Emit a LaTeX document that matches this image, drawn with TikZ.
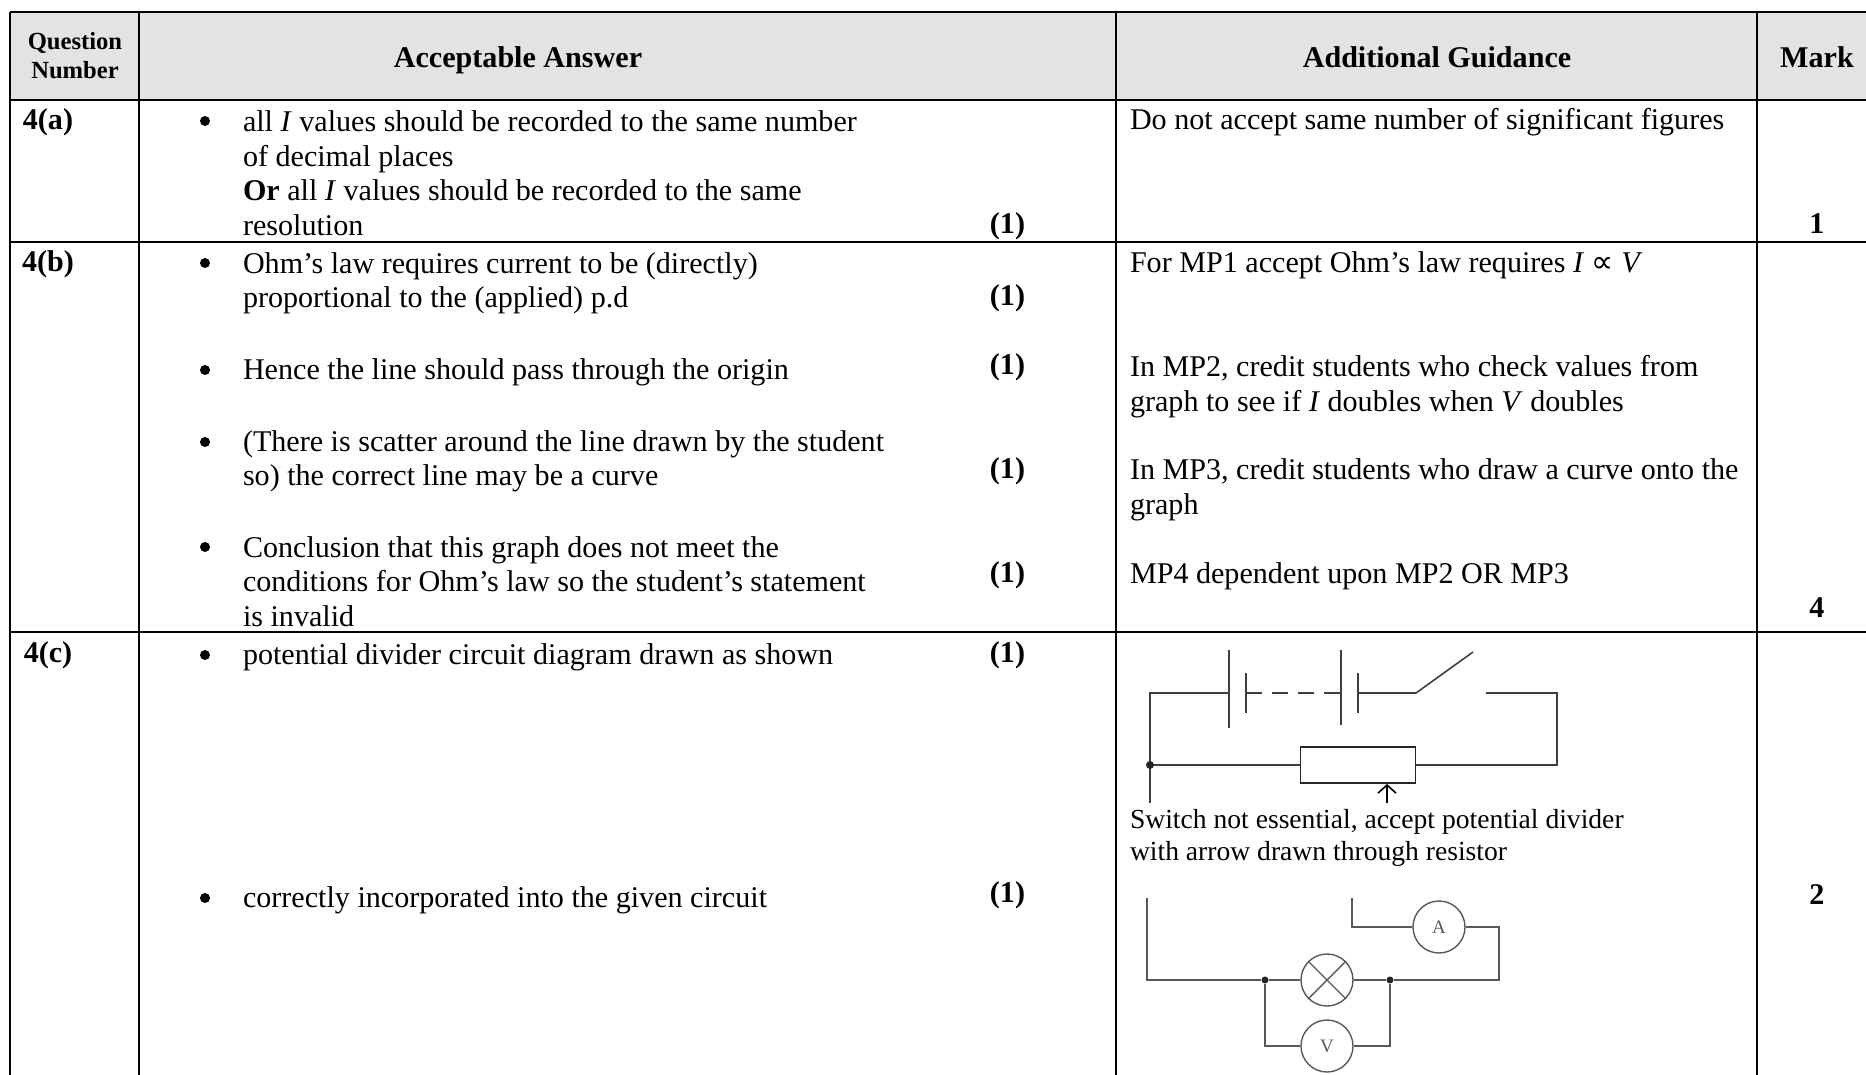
\documentclass[tikz,border=0pt]{standalone}
\usepackage{fontspec}
\setmainfont{Liberation Serif}
\newfontfamily\symfont{DejaVu Sans}
\usetikzlibrary{arrows.meta}
\newcommand{\bodytext}{\fontsize{30.1}{35}\selectfont}
\tikzset{
  x=1pt,y=-1pt,
  txt/.style={anchor=base west,inner sep=0pt,outer sep=0pt,font=\bodytext},
  hd/.style={anchor=base,inner sep=0pt,outer sep=0pt,font=\bodytext\bfseries},
  qn/.style={anchor=base,inner sep=0pt,outer sep=0pt,font=\fontsize{24.6}{29}\selectfont\bfseries},
  capt/.style={anchor=base west,inner sep=0pt,outer sep=0pt,font=\fontsize{27.6}{31}\selectfont},
  rule/.style={line width=2.6pt,black},
  thinrule/.style={line width=1.2pt,black},
  wire/.style={line width=1.6pt,black!75},
  wirepale/.style={line width=1.4pt,black!65},
  dotc/.style={circle,fill=black!85,inner sep=0pt,minimum size=8pt},
  dot2/.style={circle,fill=black!85,inner sep=0pt,minimum size=7pt},
  bul/.style={circle,fill=black,inner sep=0pt,minimum size=10pt},
  meter/.style={circle,draw=black!65,line width=1.4pt,fill=white,inner sep=0pt,minimum size=52pt,font=\fontsize{19}{19}\selectfont,text=black!65},
}
\newcommand{\bulat}[1]{\node[bul] (b#1) at (205,#1) {};}
\begin{document}
\begin{tikzpicture}
\useasboundingbox (0,0) rectangle (1866,1075);
\fill[white] (0,0) rectangle (1866,1075);
\fill[black!11] (10,12) rectangle (1866,100);
% rules
\draw[rule] (10,12) -- (1866,12);
\draw[rule] (10,100) -- (1866,100);
\draw[rule] (10,242) -- (1866,242);
\draw[rule] (10,632) -- (1130,632);
\draw[thinrule] (1130,632) -- (1574,632);
\draw[rule] (1574,632) -- (1866,632);
\draw[rule] (10,12) -- (10,1075);
\draw[rule] (139,12) -- (139,1075);
\draw[rule] (1116,12) -- (1116,1075);
\draw[rule] (1757,12) -- (1757,1075);
% header
\node[qn] (h1) at (75,50) {Question};
\node[qn] (h2) at (75,79) {Number};
\node[hd] (h3) at (518,68) {Acceptable Answer};
\node[hd] (h4) at (1437,68) {Additional Guidance};
\node[hd] (h5) at (1817,68) {Mark};
% 4a
\node[hd] (qa) at (48,130) {4(a)};
\bulat{121}
\node[txt] (a1) at (243,132) {all \textit{I} values should be recorded to the same number};
\node[txt] (a2) at (243,167) {of decimal places};
\node[txt] (a3) at (243,201) {\textbf{Or} all \textit{I} values should be recorded to the same};
\node[txt] (a4) at (243,236) {resolution};
\node[hd] (a5) at (1007.5,234) {(1)};
\node[txt] (a6) at (1130,130) {Do not accept same number of significant figures};
\node[hd] (a7) at (1817,234) {1};
% 4b
\node[hd] (qb) at (48,272) {4(b)};
\bulat{263}
\node[txt] (b11) at (243,274) {Ohm’s law requires current to be (directly)};
\node[txt] (b12) at (243,308) {proportional to the (applied) p.d};
\node[hd] (b13) at (1007.5,306) {(1)};
\bulat{370}
\node[txt] (b21) at (243,379) {Hence the line should pass through the origin};
\node[hd] (b22) at (1007.5,374) {(1)};
\bulat{442}
\node[txt] (b31) at (243,451) {(There is scatter around the line drawn by the student};
\node[txt] (b32) at (243,485) {so) the correct line may be a curve};
\node[hd] (b33) at (1007.5,478) {(1)};
\bulat{547}
\node[txt] (b41) at (243,557) {Conclusion that this graph does not meet the};
\node[txt] (b42) at (243,591) {conditions for Ohm’s law so the student’s statement};
\node[txt] (b43) at (243,626) {is invalid};
\node[hd] (b44) at (1007.5,582) {(1)};
\node[txt] (g1) at (1130,273) {For MP1 accept Ohm’s law requires \textit{I} {\symfont\fontsize{31}{30}\selectfont ∝} \textit{V}};
\node[txt] (g2) at (1130,376) {In MP2, credit students who check values from};
\node[txt] (g3) at (1130,411) {graph to see if \textit{I} doubles when \textit{V} doubles};
\node[txt] (g4) at (1130,479) {In MP3, credit students who draw a curve onto the};
\node[txt] (g5) at (1130,514) {graph};
\node[txt] (g6) at (1130,583) {MP4 dependent upon MP2 OR MP3};
\node[hd] (g7) at (1817,617) {4};
% 4c
\node[hd] (qc) at (48,662) {4(c)};
\bulat{655}
\node[txt] (c1) at (243,664) {potential divider circuit diagram drawn as shown};
\node[hd] (c2) at (1007.5,662) {(1)};
\bulat{898}
\node[txt] (c3) at (243,907) {correctly incorporated into the given circuit};
\node[hd] (c4) at (1007.5,902) {(1)};
\node[hd] (c5) at (1817,904) {2};
\node[capt] (c6) at (1130,828) {Switch not essential, accept potential divider};
\node[capt] (c7) at (1130,860) {with arrow drawn through resistor};
% potential divider circuit
\coordinate (tl) at (1150,693);
\coordinate (jn) at (1150,765);
\coordinate (ft) at (1150,803);
\coordinate (tr) at (1557,693);
\coordinate (rr) at (1557,765);
\node[draw=black!85,line width=1.6pt,minimum width=115pt,minimum height=36pt,inner sep=0pt] (res) at (1358,765) {};
\draw[wire] (ft) -- (tl) -- (1229,693);
\draw[wire] (1229,650) -- (1229,728);
\draw[wire] (1246,673) -- (1246,713);
\draw[wire] (1246,693) -- (1262,693);
\draw[wire] (1272,693) -- (1288,693);
\draw[wire] (1298,693) -- (1314,693);
\draw[wire] (1324,693) -- (1341,693);
\draw[wire] (1341,650) -- (1341,725);
\draw[wire] (1358,673) -- (1358,713);
\draw[wire] (1358,693) -- (1416,693) -- (1473,652);
\draw[wire] (1486,693) -- (tr) -- (rr) -- (res.east);
\draw[wire] (jn) -- (res.west);
\node[dotc] (jd) at (jn) {};
\coordinate (ar) at (1387,803);
\draw[wire,black,-{Straight Barb[length=8pt,width=18pt]}] (ar) -- (1387,784);
% given circuit
\coordinate (gl) at (1147,898);
\coordinate (gb) at (1147,980);
\coordinate (gt) at (1352,898);
\coordinate (ga) at (1352,927);
\coordinate (gr) at (1499,927);
\coordinate (gq) at (1499,980);
\node[meter] (am) at (1439,927) {A};
\node[meter] (lamp) at (1327,980) {};
\node[meter] (vm) at (1327,1046) {V};
\draw[wirepale] (lamp.45) -- (lamp.225);
\draw[wirepale] (lamp.135) -- (lamp.315);
\node[dot2] (j1) at (1265,980) {};
\node[dot2] (j2) at (1390,980) {};
\draw[wirepale] (gl) -- (gb) -- (j1) -- (lamp);
\draw[wirepale] (lamp) -- (j2) -- (gq) -- (gr) -- (am);
\draw[wirepale] (am) -- (ga) -- (gt);
\draw[wirepale] (j1) |- (vm);
\draw[wirepale] (j2) |- (vm);
\end{tikzpicture}
\end{document}
